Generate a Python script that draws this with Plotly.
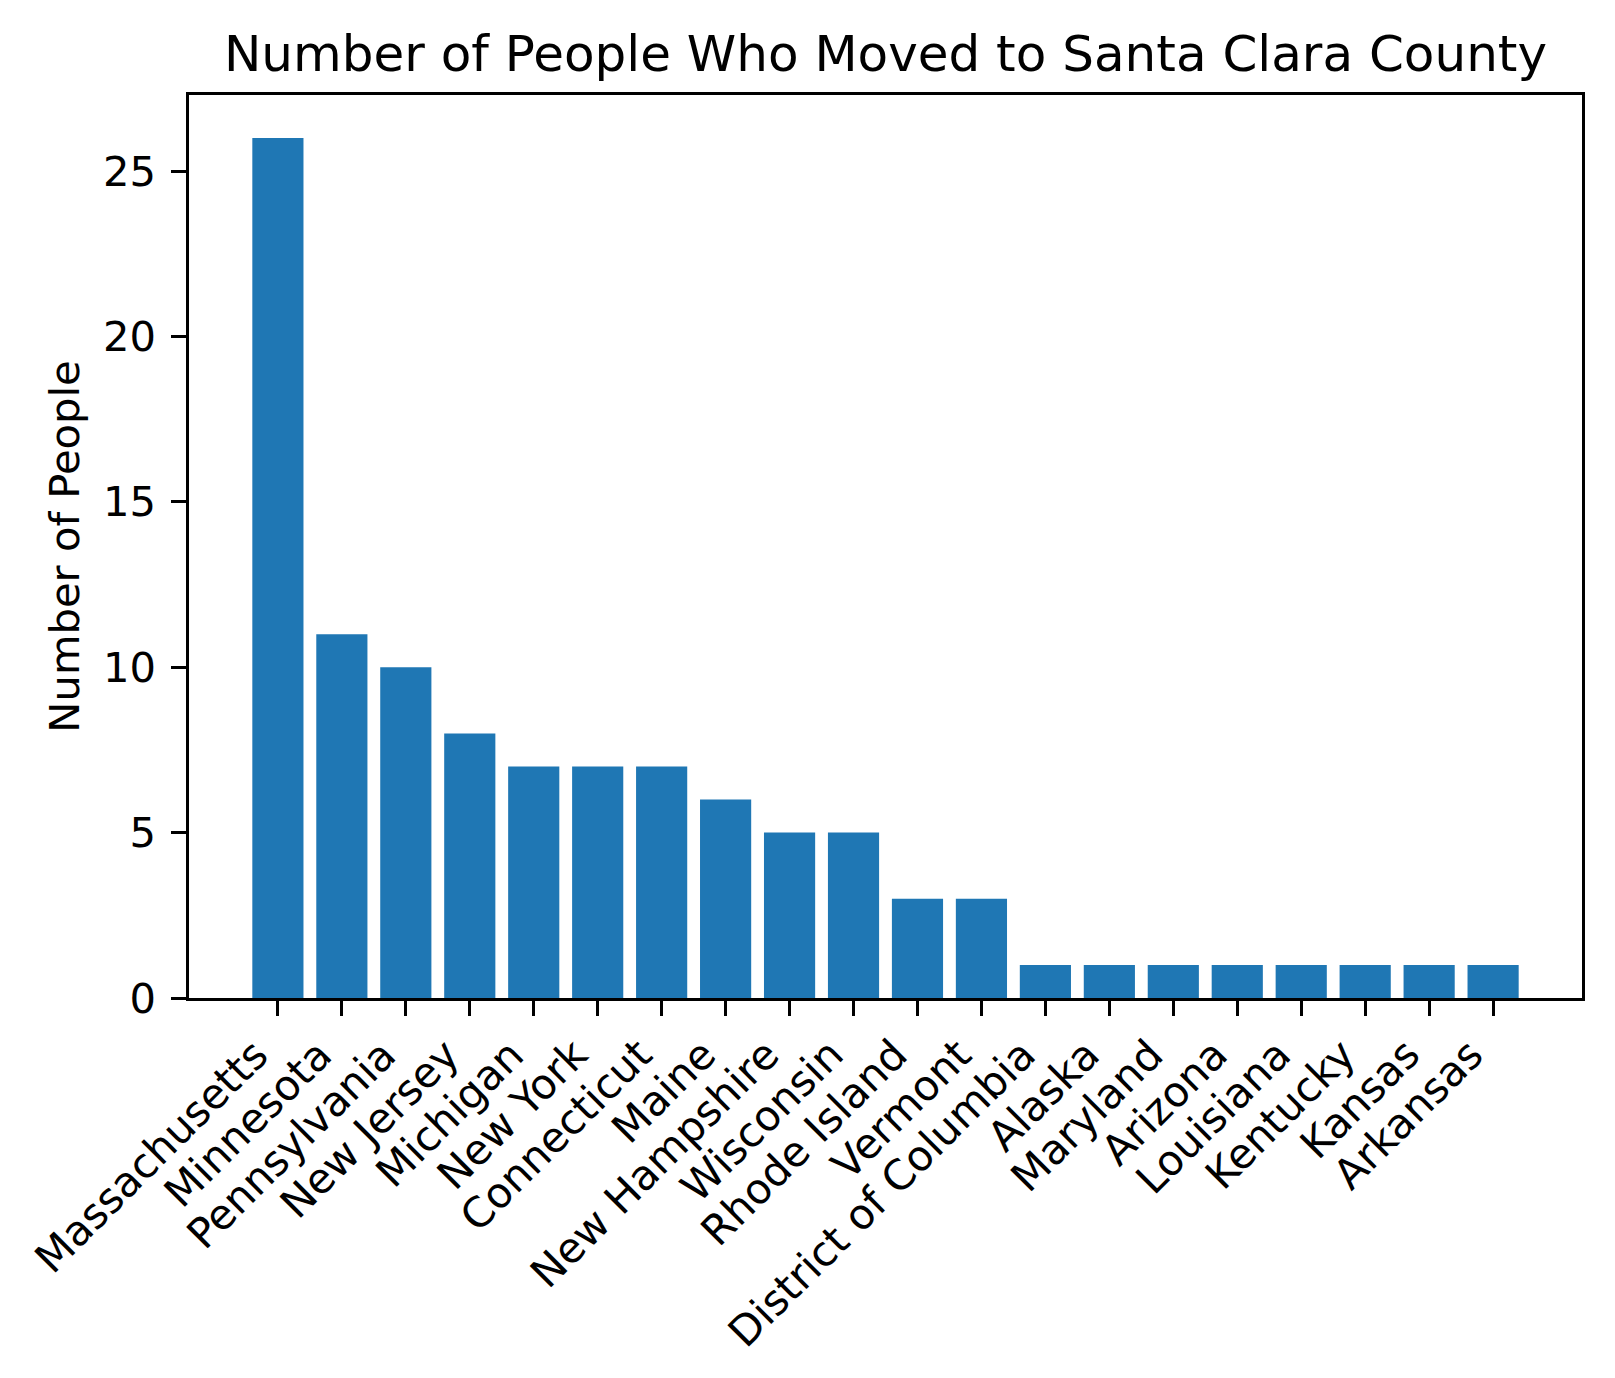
import plotly.graph_objects as go

states = ["Massachusetts", "Minnesota", "Pennsylvania", "New Jersey", "Michigan",
          "New York", "Connecticut", "Maine", "New Hampshire", "Wisconsin",
          "Rhode Island", "Vermont", "District of Columbia", "Alaska", "Maryland",
          "Arizona", "Louisiana", "Kentucky", "Kansas", "Arkansas"]
people = [26, 11, 10, 8, 7, 7, 7, 6, 5, 5, 3, 3, 1, 1, 1, 1, 1, 1, 1, 1]
y_ticks = [0, 5, 10, 15, 20, 25]

FONT = "DejaVu Sans"
TICK_PX = 41.67
TITLE_PX = 50

n = len(states)
xs = list(range(n))

fig = go.Figure(go.Bar(x=xs, y=people,
                       marker=dict(color="#1f77b4", line=dict(width=0))))

# rotated category labels, anchored like matplotlib (ha='right', rotation=45)
for i, s in enumerate(states):
    fig.add_annotation(x=i, y=0, xref="x", yref="y", text=s, showarrow=False,
                       textangle=-45, xanchor="right", yanchor="top",
                       yshift=-29, xshift=2,
                       font=dict(family=FONT, size=TICK_PX, color="black"))

fig.update_layout(
    width=1607, height=1370,
    margin=dict(l=181, r=33, t=87, b=380),
    paper_bgcolor="white", plot_bgcolor="white",
    bargap=0.2,
    showlegend=False,
    font=dict(family=FONT, size=TICK_PX, color="black"),
    title=dict(text="Number of People Who Moved to Santa Clara County",
               font=dict(family=FONT, size=TITLE_PX, color="black"),
               x=0.5, xref="paper", xanchor="center",
               y=1, yref="paper", yanchor="bottom", pad=dict(b=24)),
)
fig.update_xaxes(
    range=[-1.39, n - 1 + 1.39],
    tickmode="array", tickvals=xs, ticktext=states, showticklabels=False,
    ticks="outside", ticklen=14.6, tickwidth=3.3, tickcolor="black",
    showline=True, linewidth=3.3, linecolor="black", mirror=True,
    showgrid=False, zeroline=False,
)
fig.update_yaxes(
    range=[0, 27.3],
    tickmode="array", tickvals=y_ticks, ticktext=[str(v) for v in y_ticks],
    ticks="outside", ticklen=14.6, tickwidth=3.3, tickcolor="black",
    showline=True, linewidth=3.3, linecolor="black", mirror=True,
    showgrid=False, zeroline=False,
    tickfont=dict(family=FONT, size=TICK_PX, color="black"),
    ticklabelstandoff=7,
    title=dict(text="Number of People", font=dict(family=FONT, size=TICK_PX, color="black"),
               standoff=11),
)

fig.write_html("out.html")
